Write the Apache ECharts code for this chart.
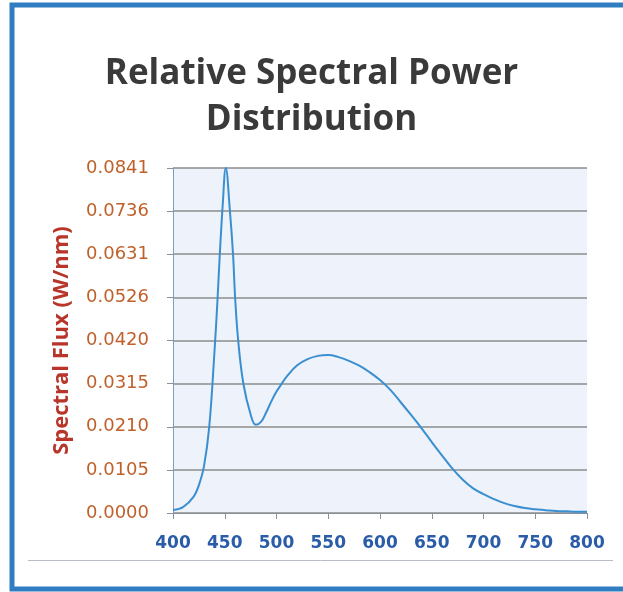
<!DOCTYPE html>
<html>
<head>
<meta charset="utf-8">
<script src="https://cdn.jsdelivr.net/npm/echarts@6/dist/echarts.min.js"></script>
<style>
  html, body { margin: 0; padding: 0; background: #fff; }
  #chart { width: 623px; height: 592px; }
</style>
</head>
<body>
<div id="chart"></div>
<script>
// wavelength (nm) and spectral flux (W/nm)
const wavelengths = [
  400, 410, 420, 425, 430, 435, 440, 443, 445, 448, 451, 455, 458, 460, 463, 468,
  475, 480, 485, 490, 495, 500, 505, 510, 520, 530, 540, 550, 560, 570, 580, 590,
  600, 610, 620, 630, 640, 650, 660, 670, 680, 690, 700, 710, 720, 730, 740,
  750, 760, 770, 780, 790, 800,
];
const flux = [
  0.0007, 0.0015, 0.0040, 0.0068, 0.0115, 0.0210, 0.0390, 0.0520, 0.0620, 0.0750, 0.0841, 0.0736, 0.0631, 0.0526, 0.0420, 0.0315,
  0.0240, 0.0215, 0.0222, 0.0245, 0.0272, 0.0296, 0.0315, 0.0333, 0.0360, 0.0375, 0.0383, 0.0385, 0.0380, 0.0371, 0.0359, 0.0343,
  0.0324, 0.0300, 0.0270, 0.0239, 0.0207, 0.0173, 0.0140, 0.0108, 0.0081, 0.0060, 0.0046, 0.0034, 0.0024, 0.0017, 0.0012,
  0.0009, 0.0007, 0.0005, 0.0004, 0.0003, 0.0003,
];
const yTickLabels = ["0.0000", "0.0105", "0.0210", "0.0315", "0.0420", "0.0526", "0.0631", "0.0736", "0.0841"];
const Y_MAX = 0.0841;
const Y_STEP = Y_MAX / 8;

const chart = echarts.init(document.getElementById("chart"));

chart.setOption({
  backgroundColor: "#fff",
  animation: false,
  title: {
    text: "Relative Spectral Power\nDistribution",
    left: "center",
    top: 46,
    textStyle: {
      color: "#3a3a3a",
      fontFamily: "Open Sans",
      fontWeight: "bold",
      fontSize: 35,
      lineHeight: 46,
    },
  },
  graphic: [
    {
      type: "rect",
      shape: { x: 12, y: 5, width: 640, height: 584 },
      style: { fill: null, stroke: "#2f7dc0", lineWidth: 5 },
      silent: true,
    },
    {
      type: "line",
      shape: { x1: 28, y1: 560.5, x2: 613, y2: 560.5 },
      style: { stroke: "#b8bcc4", lineWidth: 1 },
      silent: true,
    },
  ],
  grid: {
    left: 173,
    right: 36,
    top: 168,
    bottom: 79,
    show: true,
    backgroundColor: "#eef2fa",
    borderWidth: 0,
  },
  xAxis: {
    type: "value",
    min: 400,
    max: 800,
    interval: 50,
    axisLine: { show: true, lineStyle: { color: "#8a8f99", width: 1 } },
    axisTick: { show: true, length: 6, lineStyle: { color: "#8a8f99" } },
    splitLine: { show: false },
    axisLabel: {
      color: "#2a5ca8",
      fontFamily: "DejaVu Sans",
      fontWeight: "bold",
      fontSize: 17,
      margin: 22,
    },
  },
  yAxis: {
    type: "value",
    min: 0,
    max: Y_MAX,
    interval: Y_STEP,
    name: "Spectral Flux (W/nm)",
    nameLocation: "middle",
    nameGap: 100,
    nameTextStyle: {
      color: "#b8352a",
      fontFamily: "Open Sans",
      fontWeight: "bold",
      fontSize: 22,
    },
    axisLine: { show: true, lineStyle: { color: "#7f9cc0", width: 1 } },
    axisTick: { show: true, length: 6, lineStyle: { color: "#8a8f99" } },
    splitLine: { show: true, lineStyle: { color: "#8c8c8c", width: 1.5 } },
    axisLabel: {
      color: "#c0602a",
      fontFamily: "DejaVu Sans",
      fontSize: 18,
      margin: 24,
      formatter: (v) => yTickLabels[Math.round(v / Y_STEP)] ?? "",
    },
  },
  series: [
    {
      type: "line",
      data: wavelengths.map((w, i) => [w, flux[i]]),
      smooth: 0.4,
      symbol: "none",
      lineStyle: { color: "#3a8fd0", width: 2 },
    },
  ],
});
</script>
</body>
</html>
